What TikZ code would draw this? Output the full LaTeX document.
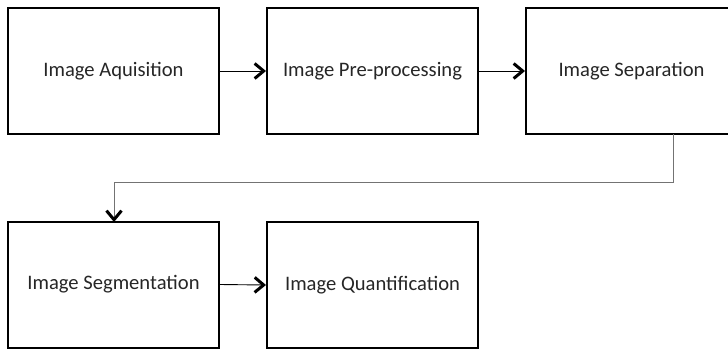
\documentclass[tikz,border=0pt]{standalone}
\usepackage{fontspec}
\setmainfont{Carlito}
\usetikzlibrary{arrows.meta}
\begin{document}
\begin{tikzpicture}[x=1pt,y=-1pt,
  box/.style={draw=black,line width=2pt,minimum width=211pt,minimum height=126pt,inner sep=0pt,font=\fontsize{20.6}{24}\selectfont,text=black!85},
  tip/.tip={Straight Barb[length=9pt,width=15pt,line width=3pt,color=black]},
  conn/.style={line width=0.9pt,-tip},
  loopc/.style={draw=black!55,line width=1pt,-tip}]
\useasboundingbox (0,0) rectangle (728,349);
\node[box] (a) at (113.5,71) {Image Aquisition};
\node[box] (b) at (372.5,71) {Image Pre-processing};
\node[box] (c) at (631.5,71) {Image Separation};
\node[box] (d) at (113.5,284.5) {Image Segmentation};
\node[box] (e) at (372.5,285) {Image Quantification};
\draw[conn] (a.east) -- (b.west);
\draw[conn] (b.east) -- (c.west);
\draw[conn] (d.east) -- (e.west);
\coordinate (k1) at (673,182);
\coordinate (k2) at (114,182);
\draw[loopc] (673,134) -- (k1) -- (k2) -- (114,222);
\end{tikzpicture}
\end{document}
